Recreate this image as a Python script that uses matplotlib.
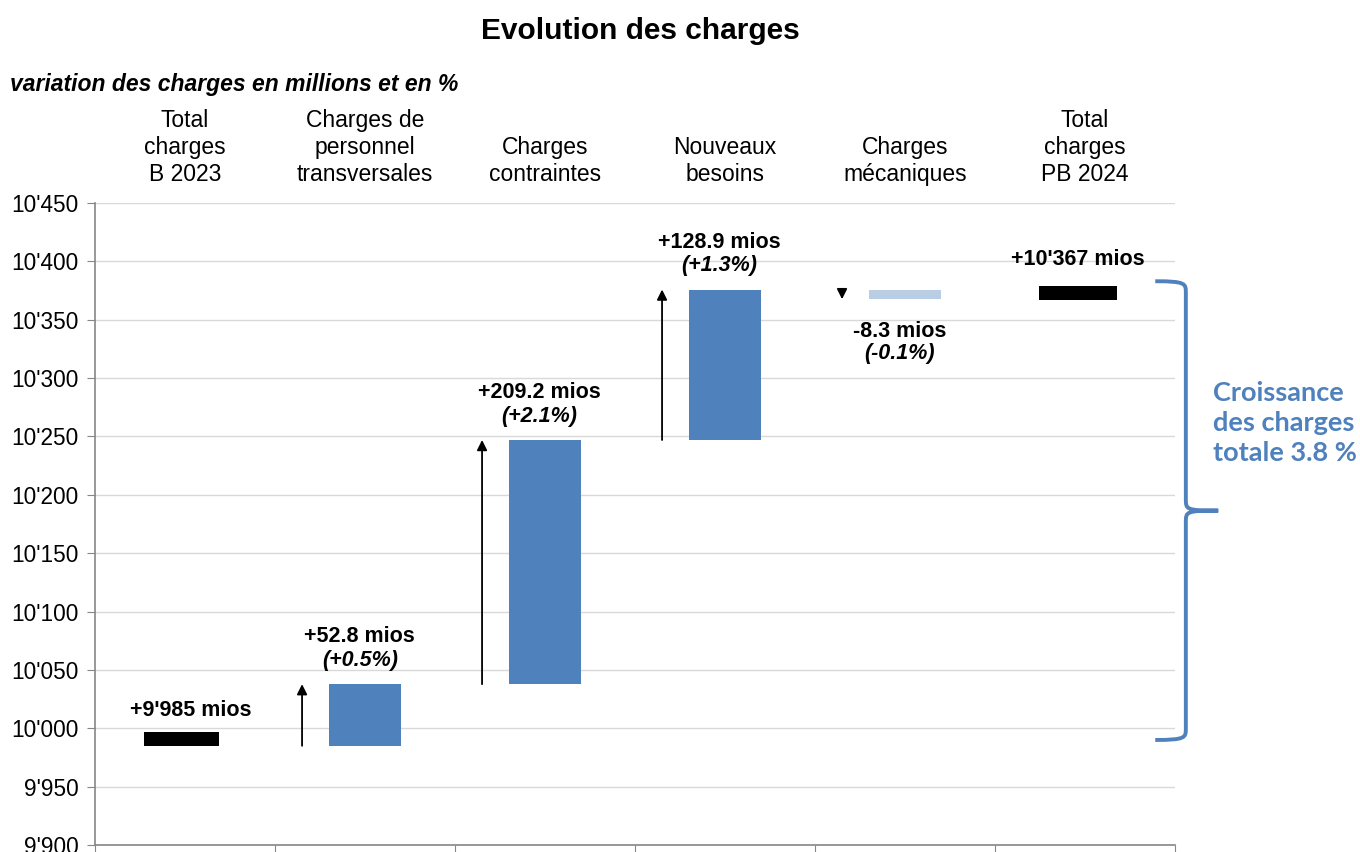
"""Evolution des charges - waterfall B 2023 -> PB 2024"""

import matplotlib
matplotlib.use("Agg")
import matplotlib.pyplot as plt
from matplotlib.path import Path
from matplotlib.patches import PathPatch

plt.rcParams['font.family'] = ['Liberation Sans', 'DejaVu Sans']

# data
categories = ["Total\ncharges\nB 2023", "Charges de\npersonnel\ntransversales",
              "Charges\ncontraintes", "Nouveaux\nbesoins",
              "Charges\nmécaniques", "Total\ncharges\nPB 2024"]
start_total = 9985.0
deltas = [52.8, 209.2, 128.9, -8.3]
delta_pct = ["(+0.5%)", "(+2.1%)", "(+1.3%)", "(-0.1%)"]
end_total = 10367.0
total_labels = ["+9'985 mios", "+10'367 mios"]
growth_text = "Croissance\ndes charges\ntotale 3.8 %"

BLUE = "#4F81BD"
LIGHT = "#B9CDE5"
MARK_H = 12   # thickness of the black total markers


def fmt(v, pos=None):
    return f"{v:,.0f}".replace(",", "'")


fig = plt.figure(figsize=(13.6, 8.52), dpi=100)
ax = fig.add_axes([0.0699, 0.0082, 0.7941, 0.7535])
ax.set_xlim(-0.5, 5.5)
ax.set_ylim(9900, 10450)

# totals as black markers
ax.bar(-0.02, MARK_H, bottom=start_total, width=0.42, color="black", zorder=3)
ax.bar(4.96, MARK_H, bottom=end_total, width=0.43, color="black", zorder=3)

# deltas
level = start_total
for i, (d, pct) in enumerate(zip(deltas, delta_pct), start=1):
    lo = min(level, level + d)
    col = BLUE if d > 0 else LIGHT
    ax.bar(i, abs(d), bottom=lo, width=0.4, color=col, zorder=3)
    ax.annotate("", xy=(i - 0.35, level + d), xytext=(i - 0.35, level),
                arrowprops=dict(arrowstyle="-|>", color="black", lw=1.3,
                                mutation_scale=15, shrinkA=0, shrinkB=0),
                zorder=4)
    txt = f"{d:+.1f} mios"
    if d > 0:
        top = level + d
        ax.annotate(txt, xy=(i - 0.03, top), xytext=(0, 34), textcoords="offset points",
                    ha="center", va="center", fontsize=15.5, fontweight="bold")
        ax.annotate(pct, xy=(i - 0.03, top), xytext=(0, 17), textcoords="offset points",
                    ha="center", va="center", fontsize=15.5, fontweight="bold", style="italic")
    else:
        bot = level + d
        ax.annotate(txt, xy=(i - 0.03, bot), xytext=(0, -23), textcoords="offset points",
                    ha="center", va="center", fontsize=15.5, fontweight="bold")
        ax.annotate(pct, xy=(i - 0.03, bot), xytext=(0, -39), textcoords="offset points",
                    ha="center", va="center", fontsize=15.5, fontweight="bold", style="italic")
    level += d

ax.annotate(total_labels[0], xy=(0.03, start_total + MARK_H), xytext=(0, 15),
            textcoords="offset points", ha="center", va="center",
            fontsize=15.5, fontweight="bold")
ax.annotate(total_labels[1], xy=(4.96, end_total + MARK_H), xytext=(0, 19),
            textcoords="offset points", ha="center", va="center",
            fontsize=15.5, fontweight="bold")

# category labels above the plot
for i, c in enumerate(categories):
    ax.annotate(c, xy=(i, 1), xycoords=("data", "axes fraction"), xytext=(0, 12),
                textcoords="offset points", ha="center", va="bottom",
                fontsize=16.5, linespacing=1.22, multialignment="center")

# axes styling
ax.set_yticks(range(9900, 10451, 50))
ax.yaxis.set_major_formatter(plt.FuncFormatter(fmt))
ax.set_xticks([x - 0.5 for x in range(7)])
ax.set_xticklabels([])
ax.tick_params(axis="y", labelsize=16.3, length=6, color="#868686", pad=6)
ax.tick_params(axis="x", length=6, color="#868686")
ax.grid(axis="y", color="#d9d9d9", lw=1, zorder=0)
ax.set_axisbelow(True)
for s in ["top", "right"]:
    ax.spines[s].set_visible(False)
for s in ["left", "bottom"]:
    ax.spines[s].set_color("#868686")
    ax.spines[s].set_linewidth(1.2)

# curly brace on the right
y_top = end_total + 16
y_bot = start_total + 5
y_mid = (y_top + y_bot) / 2
x0, x1, x2 = 5.39, 5.56, 5.74
k = 10
verts = [(x0, y_top), (x1, y_top), (x1, y_top - 2), (x1, y_top - k),
         (x1, y_mid + k), (x1, y_mid + 1), (x1, y_mid), (x2, y_mid),
         (x1, y_mid), (x1, y_mid - 1), (x1, y_mid - k),
         (x1, y_bot + k), (x1, y_bot + 2), (x1, y_bot), (x0, y_bot)]
codes = [Path.MOVETO, Path.CURVE4, Path.CURVE4, Path.CURVE4,
         Path.LINETO, Path.CURVE4, Path.CURVE4, Path.CURVE4,
         Path.CURVE4, Path.CURVE4, Path.CURVE4,
         Path.LINETO, Path.CURVE4, Path.CURVE4, Path.CURVE4]
ax.add_patch(PathPatch(Path(verts, codes), fill=False, ec=BLUE, lw=2.8,
                       clip_on=False, zorder=5))

fig.text(0.892, 0.503, growth_text, ha="left", va="center", fontsize=19.5,
         fontweight="bold", color=BLUE, family=["Lato", "DejaVu Sans"],
         linespacing=1.3)

fig.text(0.471, 0.964, "Evolution des charges", ha="center", va="center",
         fontsize=21.5, fontweight="bold")
fig.text(0.007, 0.901, "variation des charges en millions et en %", ha="left",
         va="center", fontsize=16.5, fontweight="bold", style="italic")

fig.savefig("out.png", dpi=100)
